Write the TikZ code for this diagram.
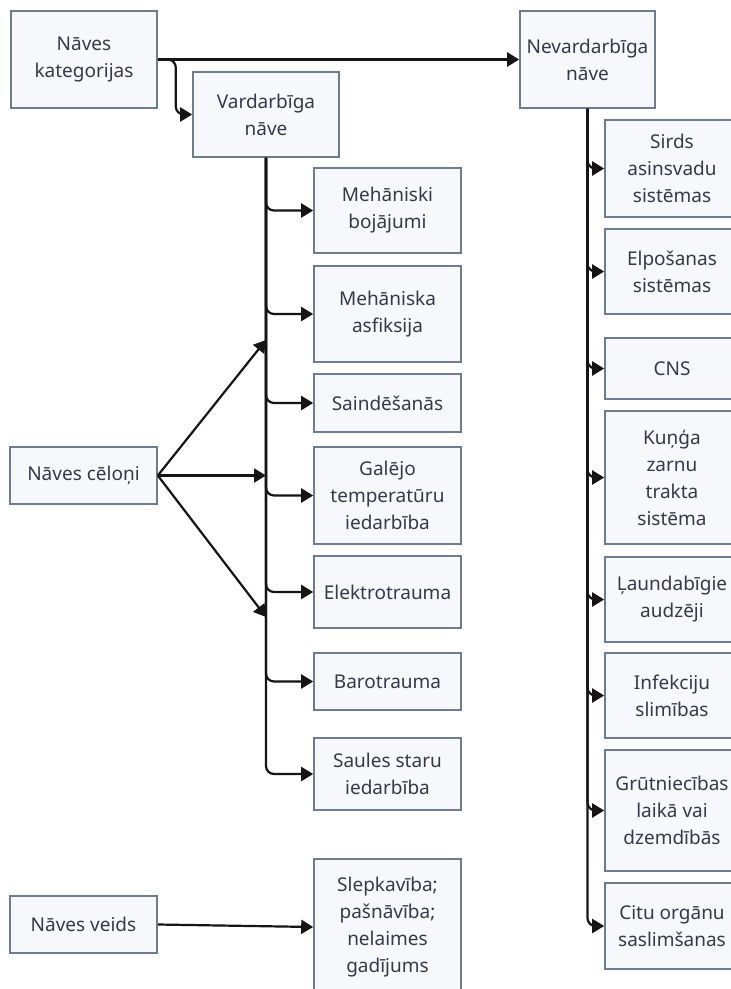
\documentclass[tikz,border=0pt]{standalone}
\usepackage{fontspec}
\setmainfont{Noto Sans}
\usetikzlibrary{arrows.meta}
\definecolor{boxfill}{HTML}{F6F8FB}
\definecolor{boxline}{HTML}{6F7C90}
\definecolor{txt}{HTML}{343B48}
\definecolor{ln}{HTML}{151515}
\tikzset{
  box/.style={draw=boxline, fill=boxfill, line width=1.6pt, align=center, text=txt,
    inner sep=1pt, font=\fontsize{19}{27}\selectfont},
  conn/.style={draw=ln, line width=2.2pt, -{Triangle[length=12pt,width=14pt]}},
  roundconn/.style={conn, rounded corners=8pt}
}
\begin{document}
\begin{tikzpicture}[x=1pt,y=-1pt]
\useasboundingbox (0,0) rectangle (731,989);
\fill[white] (0,0) rectangle (731,989);
% left column
\node[box, minimum width=146pt, minimum height=97pt] (kat) at (84,59.5) {Nāves\\kategorijas};
\node[box, minimum width=147pt, minimum height=57pt] (cel) at (83.5,475.5) {Nāves cēloņi};
\node[box, minimum width=147pt, minimum height=57pt] (vei) at (83.5,924.5) {Nāves veids};
% second column
\node[box, minimum width=146pt, minimum height=85pt] (var) at (266,114.5) {Vardarbīga\\nāve};
% middle column
\node[box, minimum width=147pt, minimum height=85pt] (meh1) at (387.5,210.5) {Mehāniski\\bojājumi};
\node[box, minimum width=147pt, minimum height=96pt] (meh2) at (387.5,314) {Mehāniska\\asfiksija};
\node[box, minimum width=147pt, minimum height=58pt] (sai) at (387.5,403) {Saindēšanās};
\node[box, minimum width=147pt, minimum height=97pt] (gal) at (387.5,495.5) {Galējo\\temperatūru\\iedarbība};
\node[box, minimum width=147pt, minimum height=72pt] (ele) at (387.5,592) {Elektrotrauma};
\node[box, minimum width=147pt, minimum height=57pt] (bar) at (387.5,681.5) {Barotrauma};
\node[box, minimum width=147pt, minimum height=72pt] (sau) at (387.5,774) {Saules staru\\iedarbība};
\node[box, minimum width=147pt, minimum height=136pt] (sle) at (387.5,927) {Slepkavība;\\pašnāvība;\\nelaimes\\gadījums};
% right
\node[box, minimum width=135pt, minimum height=97pt] (nev) at (587.5,59.5) {Nevardarbīga\\nāve};
\node[box, minimum width=134pt, minimum height=97pt] (sir) at (672,168.5) {Sirds\\asinsvadu\\sistēmas};
\node[box, minimum width=134pt, minimum height=85pt] (elp) at (672,271.5) {Elpošanas\\sistēmas};
\node[box, minimum width=134pt, minimum height=61pt] (cns) at (672,368.5) {CNS};
\node[box, minimum width=134pt, minimum height=133pt] (kun) at (672,477.5) {Kuņģa\\zarnu\\trakta\\sistēma};
\node[box, minimum width=134pt, minimum height=85pt] (lau) at (672,599.5) {Ļaundabīgie\\audzēji};
\node[box, minimum width=134pt, minimum height=85pt] (inf) at (672,695.5) {Infekciju\\slimības};
\node[box, minimum width=134pt, minimum height=121pt] (gru) at (672,810.5) {Grūtniecības\\laikā vai\\dzemdībās};
\node[box, minimum width=134pt, minimum height=86pt] (cit) at (672,926) {Citu orgānu\\saslimšanas};
% connectors
\draw[conn] (kat.east) -- (nev.west);
\draw[roundconn] (kat.east) -- ++(18,0) |- (var.west);
\foreach \n in {meh1,meh2,sai,gal,ele,bar,sau}{
  \draw[roundconn] (var.south) |- (\n.west);
}
\foreach \n in {sir,elp,cns,kun,lau,inf,gru,cit}{
  \draw[roundconn] (nev.south) |- (\n.west);
}
\coordinate (c1) at (266,340);
\coordinate (c2) at (266,475.5);
\coordinate (c3) at (266,617);
\draw[conn] (cel.east) -- (c1);
\draw[conn] (cel.east) -- (c2);
\draw[conn] (cel.east) -- (c3);
\draw[conn] (vei.east) -- (sle.west);
\end{tikzpicture}
\end{document}
